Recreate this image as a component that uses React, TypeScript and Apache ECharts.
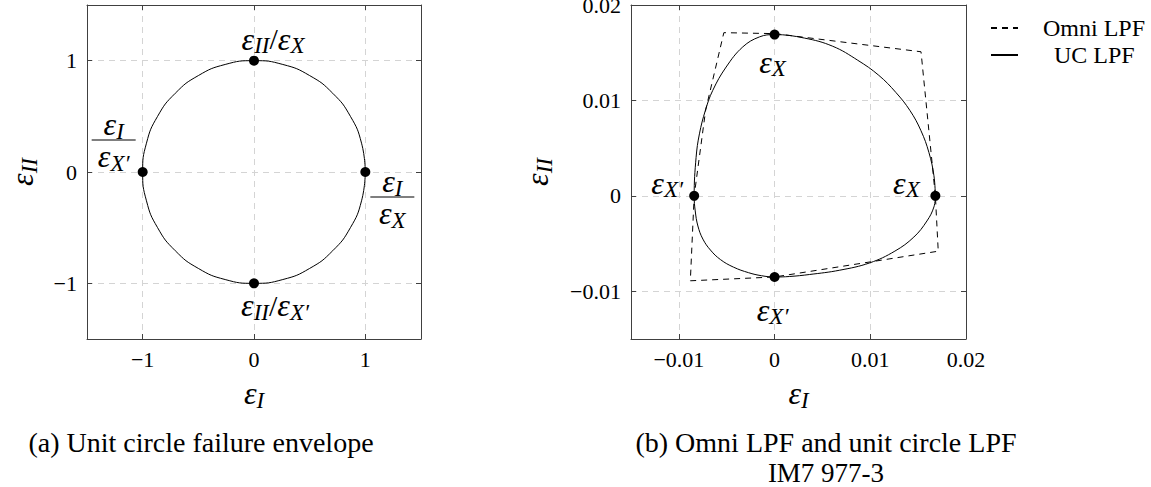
import React, { useEffect, useRef } from 'react';
import * as echarts from 'echarts';

// ---------- data ----------
// (a) unit circle failure envelope (points read on the circle every 15 degrees)
const circleX = [1, 0.9659, 0.866, 0.7071, 0.5, 0.2588, 0, -0.2588, -0.5, -0.7071, -0.866, -0.9659, -1, -0.9659, -0.866, -0.7071, -0.5, -0.2588, 0, 0.2588, 0.5, 0.7071, 0.866, 0.9659, 1];
const circleY = [0, 0.2588, 0.5, 0.7071, 0.866, 0.9659, 1, 0.9659, 0.866, 0.7071, 0.5, 0.2588, 0, -0.2588, -0.5, -0.7071, -0.866, -0.9659, -1, -0.9659, -0.866, -0.7071, -0.5, -0.2588, 0];
const unitDotX = [0, -1, 1, 0];
const unitDotY = [1, 0, 0, -1];

// (b) UC LPF curve
const ucX = [0.0168, 0.01665, 0.01613, 0.01529, 0.01414, 0.01267, 0.01089, 0.00869, 0.00607, 0.00314, 0, -0.00157, -0.00332, -0.00506, -0.00646, -0.00723, -0.00785, -0.0082, -0.0084, -0.00829, -0.00801, -0.00749, -0.0067, -0.00565, -0.00429, -0.00272, -0.00136, 0, 0.00157, 0.00366, 0.00681, 0.00995, 0.01257, 0.01455, 0.01592, 0.01665, 0.0168];
const ucY = [0, 0.00211, 0.00453, 0.00684, 0.00895, 0.01084, 0.01263, 0.01421, 0.01568, 0.01653, 0.0169, 0.01666, 0.01561, 0.0135, 0.01105, 0.00895, 0.0065, 0.00403, 0, -0.00158, -0.00316, -0.00453, -0.00568, -0.00668, -0.00747, -0.00805, -0.00837, -0.0085, -0.00845, -0.00824, -0.00779, -0.00702, -0.00579, -0.00432, -0.00263, -0.00116, 0];
// (b) Omni LPF polygon
const omniX = [0.0168, 0.0153, 0, -0.0053, -0.0072, -0.0084, -0.0088, 0, 0.0171, 0.0168];
const omniY = [0, 0.0151, 0.017, 0.0171, 0.009, 0, -0.0089, -0.0085, -0.0058, 0];
const lpfDotX = [0, -0.0084, 0.0168, 0];
const lpfDotY = [0.0169, 0, 0, -0.0085];

const leftTicks = [-1, 0, 1];
const rightTicks = [-0.01, 0, 0.01, 0.02];
const seriesNames = ['Omni LPF', 'UC LPF'];

const FONT = '"Liberation Serif", "Times New Roman", Times, "DejaVu Serif", serif';

const rich: any = {
  e: { fontFamily: FONT, fontStyle: 'italic', fontSize: 32, color: '#000', lineHeight: 26 },
  s: { fontFamily: FONT, fontStyle: 'italic', fontSize: 23, color: '#000', lineHeight: 26, padding: [14, 0, 0, 0] },
  r: { fontFamily: FONT, fontSize: 30, color: '#000', lineHeight: 26 },
  bar: { width: 44, height: 1, lineHeight: 6, backgroundColor: '#000', fontSize: 6 },
};

const fmt = (v: number) => (v < 0 ? '\u2212' + String(-v) : String(v));
const axisLine = { color: '#404040', width: 1 };

function mkAxis(kind: 'x' | 'y', gridIndex: number, min: number, max: number, ticks: number[], position: string, main: boolean, nameGap: number, name: string) {
  return {
    type: 'value',
    gridIndex,
    min,
    max,
    position,
    axisLine: { show: true, onZero: false, lineStyle: axisLine },
    axisTick: { show: true, inside: true, length: 5, customValues: ticks, lineStyle: axisLine },
    axisLabel: {
      show: main,
      customValues: ticks,
      formatter: fmt,
      fontFamily: FONT,
      fontSize: 22,
      color: '#000',
      margin: kind === 'x' ? 9 : 10,
    },
    splitLine: { show: main, lineStyle: { color: '#d4d4d4', type: [6, 5], width: 1 } },
    name: main ? name : '',
    nameLocation: 'middle',
    nameGap,
    nameTextStyle: { rich },
  };
}

const zip = (xs: number[], ys: number[]) => xs.map((x, i) => [x, ys[i]]);

function dotItems(xs: number[], ys: number[], labels: { text: string; offset: number[] }[]) {
  return xs.map((x, i) => ({
    value: [x, ys[i]],
    label: {
      show: true,
      position: 'inside',
      align: 'center',
      verticalAlign: 'middle',
      offset: labels[i].offset,
      formatter: labels[i].text,
      rich,
    },
  }));
}

export default function App() {
  const ref = useRef<HTMLDivElement>(null);
  useEffect(() => {
    if (!ref.current) return;
    const chart = echarts.init(ref.current, undefined, { renderer: 'svg' });
    const option: any = {
      animation: false,
      backgroundColor: '#fff',
      textStyle: { fontFamily: FONT },
      grid: [
        { left: 87, top: 5, width: 334, height: 334, outerBoundsMode: 'none', containLabel: false },
        { left: 631, top: 5, width: 335, height: 334, outerBoundsMode: 'none', containLabel: false },
      ],
      xAxis: [
        mkAxis('x', 0, -1.5, 1.5, leftTicks, 'bottom', true, 36, '{e|ε}{s|I}'),
        mkAxis('x', 0, -1.5, 1.5, leftTicks, 'top', false, 0, ''),
        mkAxis('x', 1, -0.015, 0.02, rightTicks, 'bottom', true, 36, '{e|ε}{s|I}'),
        mkAxis('x', 1, -0.015, 0.02, rightTicks, 'top', false, 0, ''),
      ],
      yAxis: [
        mkAxis('y', 0, -1.5, 1.5, leftTicks, 'left', true, 52, '{e|ε}{s|II}'),
        mkAxis('y', 0, -1.5, 1.5, leftTicks, 'right', false, 0, ''),
        mkAxis('y', 1, -0.015, 0.02, rightTicks, 'left', true, 81, '{e|ε}{s|II}'),
        mkAxis('y', 1, -0.015, 0.02, rightTicks, 'right', false, 0, ''),
      ],
      legend: {
        data: seriesNames,
        orient: 'vertical',
        left: 985,
        top: 11,
        itemWidth: 27,
        itemHeight: 14,
        itemGap: 3,
        itemStyle: { opacity: 0 },
        formatter: (n: string) => (n === 'UC LPF' ? '{u|UC LPF}' : '{o|Omni LPF}'),
        textStyle: {
          fontFamily: FONT,
          fontSize: 24,
          color: '#000',
          rich: {
            o: { fontFamily: FONT, fontSize: 24, color: '#000', padding: [0, 0, 0, 20] },
            u: { fontFamily: FONT, fontSize: 24, color: '#000', padding: [0, 0, 0, 31] },
          },
        },
      },
      series: [
        {
          type: 'line',
          xAxisIndex: 0,
          yAxisIndex: 0,
          data: zip(circleX, circleY),
          smooth: true,
          symbol: 'none',
          lineStyle: { color: '#000', width: 1 },
          silent: true,
        },
        {
          type: 'scatter',
          xAxisIndex: 0,
          yAxisIndex: 0,
          symbolSize: 10,
          itemStyle: { color: '#000', opacity: 1 },
          data: dotItems(unitDotX, unitDotY, [
            { text: '{e|ε}{s|II}{r|/}{e|ε}{s|X}', offset: [19, -22] },
            { text: '{e|ε}{s|I}\n{bar| }\n{e|ε}{s|X′}', offset: [-29, -32] },
            { text: '{e|ε}{s|I}\n{bar| }\n{e|ε}{s|X}', offset: [27, 25] },
            { text: '{e|ε}{s|II}{r|/}{e|ε}{s|X′}', offset: [21, 22] },
          ]),
        },
        {
          name: 'Omni LPF',
          type: 'line',
          xAxisIndex: 2,
          yAxisIndex: 2,
          data: zip(omniX, omniY),
          symbol: 'none',
          lineStyle: { color: '#000', width: 1, type: [6, 5] },
          itemStyle: { color: '#000' },
        },
        {
          name: 'UC LPF',
          type: 'line',
          xAxisIndex: 2,
          yAxisIndex: 2,
          data: zip(ucX, ucY),
          smooth: 0.4,
          symbol: 'none',
          lineStyle: { color: '#000', width: 1 },
          itemStyle: { color: '#000' },
        },
        {
          type: 'scatter',
          xAxisIndex: 2,
          yAxisIndex: 2,
          symbolSize: 10,
          itemStyle: { color: '#000', opacity: 1 },
          data: dotItems(lpfDotX, lpfDotY, [
            { text: '{e|ε}{s|X}', offset: [-2, 27] },
            { text: '{e|ε}{s|X′}', offset: [-27, -13] },
            { text: '{e|ε}{s|X}', offset: [-29, -13] },
            { text: '{e|ε}{s|X′}', offset: [-2, 33] },
          ]),
        },
      ],
      graphic: [
        {
          type: 'text',
          x: 201,
          y: 442,
          style: { text: '(a) Unit circle failure envelope', fontFamily: FONT, fontSize: 28, fill: '#000', align: 'center', verticalAlign: 'middle' },
        },
        {
          type: 'text',
          x: 826,
          y: 442,
          style: { text: '(b) Omni LPF and unit circle LPF', fontFamily: FONT, fontSize: 28, fill: '#000', align: 'center', verticalAlign: 'middle' },
        },
        {
          type: 'text',
          x: 826,
          y: 473,
          style: { text: 'IM7 977-3', fontFamily: FONT, fontSize: 27, fill: '#000', align: 'center', verticalAlign: 'middle' },
        },
      ],
    };
    chart.setOption(option);
    return () => chart.dispose();
  }, []);
  return <div ref={ref} style={{ position: 'absolute', left: 0, top: 0, width: 1151, height: 487 }} />;
}
